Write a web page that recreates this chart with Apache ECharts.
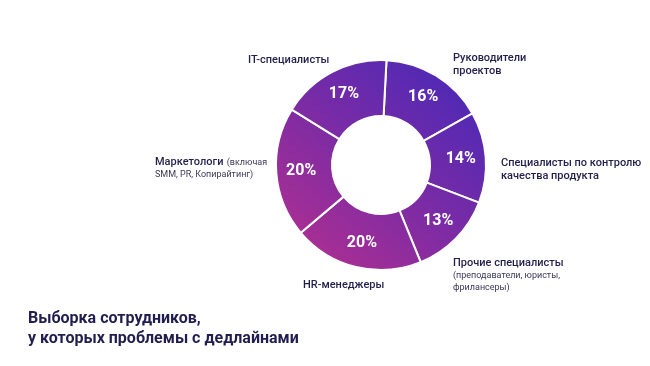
<!DOCTYPE html>
<html><head><meta charset="utf-8">
<script src="https://cdn.jsdelivr.net/npm/echarts@6/dist/echarts.min.js"></script>
<style>html,body{margin:0;padding:0;background:#fff;}#c{width:650px;height:366px;}</style>
</head><body><div id="c"></div>
<script>
const categories = ['Руководители проектов','Специалисты по контролю качества продукта','Прочие специалисты','HR-менеджеры','Маркетологи','IT-специалисты'];
const values = [16, 14, 13, 20, 20, 17];
const labelTexts = [
  '{m|Руководители}\n{m|проектов}',
  '{m|Специалисты по контролю}\n{m|качества продукта}',
  '{m|Прочие специалисты}\n{s|(преподаватели, юристы,}\n{s|фрилансеры)}',
  '{m|HR-менеджеры}',
  '{m|Маркетологи} {s|(включая}\n{s|SMM, PR, Копирайтинг)}',
  '{m|IT-специалисты}'
];
const titleText = 'Выборка сотрудников,\nу которых проблемы с дедлайнами';
// label anchor (left-top) positions
const labelPos = [[453,52],[501,157],[453,257],[303,279],[155,156],[248,54]];

const chart = echarts.init(document.getElementById('c'), null, {renderer:'canvas'});
const grad = new echarts.graphic.LinearGradient(470, 62, 292, 268, [
  {offset:0, color:'#4629b8'},
  {offset:0.5, color:'#7a2ba5'},
  {offset:1, color:'#b3308f'}
], true);
const font = 'Roboto, "Noto Sans", sans-serif';
chart.setOption({
  animation:false,
  title:{text:titleText, left:23, top:304, textStyle:{fontFamily:font, fontSize:16, fontWeight:'bold', color:'#211d4e', lineHeight:20}},
  series:[{
    type:'pie', center:[381,165], radius:[49,105], startAngle:87, clockwise:true,
    avoidLabelOverlap:false,
    itemStyle:{color:grad, borderColor:'#fff', borderWidth:2},
    label:{show:true, position:'inside', formatter:'{c}%', color:'#fff', fontFamily:font, fontSize:16, fontWeight:'bold'},
    labelLine:{show:false},
    data: categories.map((n,i)=>({name:n, value:values[i]}))
  },{
    type:'pie', center:[381,165], radius:[49,105], startAngle:87, clockwise:true, silent:true,
    avoidLabelOverlap:false,
    itemStyle:{color:'rgba(0,0,0,0)'},
    label:{show:true, position:'outside', formatter:(p)=>labelTexts[p.dataIndex],
      rich:{m:{fontFamily:font, fontSize:11, fontWeight:500, color:'#231f4d', lineHeight:13},
            s:{fontFamily:font, fontSize:9, color:'#3b3858', lineHeight:12}}},
    labelLine:{show:false},
    labelLayout:(p)=>({x:labelPos[p.dataIndex][0], y:labelPos[p.dataIndex][1], align:'left', verticalAlign:'top'}),
    data: categories.map((n,i)=>({name:n, value:values[i]}))
  }]
});
</script></body></html>
